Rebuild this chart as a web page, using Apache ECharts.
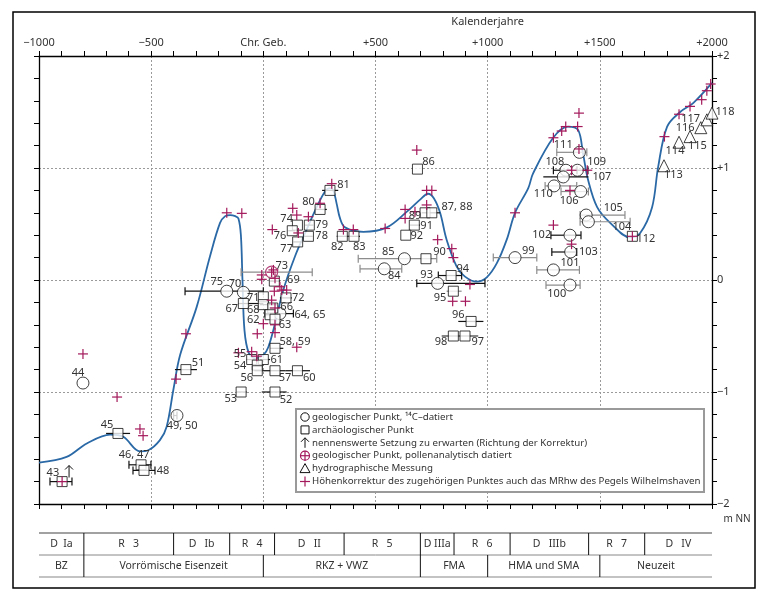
<!DOCTYPE html>
<html><head><meta charset="utf-8">
<script src="https://cdn.jsdelivr.net/npm/echarts/dist/echarts.min.js"></script>
<style>html,body{margin:0;padding:0;background:#fff}#c{width:765px;height:597px}</style>
</head><body><div id="c"></div>
<script>
// ---------- DATA ----------
const xTickLabels = ['\u22121000', '\u2212500', 'Chr. Geb.', '+500', '+1000', '+1500', '+2000'];
const yTickLabels = ['\u22122', '\u22121', '0', '+1', '+2'];

// sea-level curve (year, m NN)
const curve = [[-1000,-1.63],[-877,-1.58],[-787,-1.46],[-683,-1.38],[-624,-1.40],[-550,-1.53],[-513,-1.52],
 [-461,-1.43],[-431,-1.31],[-401,-0.98],[-371,-0.67],[-297,-0.24],[-238,0.21],[-193,0.51],[-170,0.57],[-148,0.58],
 [-125,0.57],[-111,0.55],[-100,0.40],[-93,0.0],[-84,-0.45],[-65,-0.65],[-35,-0.70],[0,-0.67],[22,-0.60],[52,-0.39],
 [89,-0.09],[141,0.21],[193,0.45],[238,0.65],[275,0.79],[297,0.82],[312,0.80],[327,0.68],[342,0.55],[364,0.47],
 [446,0.43],[551,0.47],[640,0.61],[700,0.72],[734,0.77],[760,0.73],[788,0.60],[817,0.36],[862,0.12],[899,0.03],
 [951,-0.015],[996,0.024],[1041,0.15],[1085,0.36],[1122,0.60],[1181,0.82],[1202,0.95],[1292,1.27],[1358,1.37],
 [1403,1.34],[1425,1.13],[1448,0.89],[1488,0.65],[1546,0.51],[1635,0.38],[1680,0.42],[1733,0.65],[1760,1.01],
 [1800,1.37],[1858,1.50],[1916,1.58],[2000,1.76]];

// geological points, 14C dated
const geoC14 = [[-804,-0.92],[-385,-1.21],[-163,-0.10],[-89,-0.11],[74,-0.30],[629,0.19],[539,0.10],[777,-0.03],
 [1122,0.20],[1367,0.40],[1370,0.25],[1293,0.09],[1367,-0.045],[1409,1.14],[1349,0.98],[1400,0.98],[1337,0.92],
 [1296,0.84],[1415,0.79],[1439,0.58],[1449,0.52]];
// geological point, pollen dated
const geoPollen = [[37,0.07]];
// archaeological points
const archaeo = [[-897,-1.80],[-648,-1.37],[-545,-1.65],[-532,-1.70],[-345,-0.80],[253,0.63],[152,0.49],[205,0.49],
 [129,0.44],[201,0.39],[153,0.34],[297,0.80],[352,0.39],[404,0.39],[49,-0.01],[0,-0.15],[-89,-0.21],[0,-0.22],
 [101,-0.16],[42,-0.25],[30,-0.31],[52,-0.35],[52,-0.61],[-52,-0.71],[0,-0.71],[-27,-0.76],[-27,-0.81],[52,-0.81],
 [152,-0.81],[-99,-1.00],[52,-1.00],[687,0.99],[721,0.60],[751,0.60],[673,0.49],[635,0.40],[725,0.19],[837,0.04],
 [847,-0.10],[926,-0.37],[899,-0.50],[847,-0.50],[1645,0.39]];
// hydrographic measurements
const hydro = [[1786,1.02],[1853,1.23],[1902,1.28],[1950,1.36],[1977,1.43],[2000,1.49]];
// height corrections
const corrections = [[-897,-1.80],[-804,-0.66],[-652,-1.045],[-550,-1.33],[-536,-1.39],[-389,-0.885],[-345,-0.48],
 [-163,0.60],[-96,0.595],[131,0.64],[149,0.58],[201,0.565],[253,0.685],[40,0.45],[156,0.42],[357,0.45],[401,0.45],
 [-7,0.045],[-7,0.006],[45,0.09],[52,0.015],[74,-0.06],[49,-0.10],[82,-0.09],[104,-0.09],[37,-0.18],[52,-0.25],
 [0,-0.39],[52,-0.40],[-27,-0.48],[52,-0.47],[149,-0.60],[-111,-0.65],[-52,-0.64],[-29,-0.68],
 [305,0.86],[684,1.16],[632,0.63],[676,0.61],[632,0.55],[728,0.80],[751,0.80],[728,0.67],[777,0.36],[840,0.28],
 [847,0.20],[921,-0.04],[844,-0.19],[901,-0.19],[543,0.46],[1122,0.60],[1374,0.32],
 [1407,1.49],[1348,1.37],[1330,1.33],[1401,1.37],[1293,1.27],[1407,1.17],[1374,0.98],[1444,0.98],[1367,0.80],
 [1293,0.49],[1788,1.28],[1853,1.48],[1902,1.55],[1954,1.61],[1977,1.69],[1994,1.75],[1645,0.39]];
// settlement expected (arrow)
const settlement = [[-866,-1.71]];

// dating ranges [from, to, height]
const rangesCapGray = [[-99,218,0.07],[423,773,0.19],[431,617,0.10],[1025,1219,0.20],[1219,1409,0.09],
 [1260,1412,-0.045],[1308,1442,1.14],[1256,1397,0.84],[1327,1449,0.79],[1412,1612,0.58],[1412,1635,0.52]];
const rangesCapBlack = [[-951,-853,-1.80],[-599,-501,-1.65],[-581,-483,-1.70],[-400,-385,-1.21],[-349,0,-0.10],
 [7,134,-0.30],[684,988,-0.03],[780,884,0.04],[1282,1416,0.40],[1286,1397,0.25],[1293,1374,0.98],[1398,1447,0.98]];
const rangesPlain = [[-701,-594,-1.37],[-394,-296,-0.80],[230,283,0.63],[186,223,0.49],[181,220,0.39],[134,171,0.34],
 [111,141,0.44],[327,379,0.39],[379,431,0.39],[30,74,-0.01],[74,127,-0.16],[-15,60,-0.22],[22,67,-0.25],[7,52,-0.31],
 [30,89,-0.61],[-15,30,-0.71],[-40,-15,-0.81],[-15,100,-0.81],[100,208,-0.81],[-74,-29,-0.71],[-37,0,-0.76],
 [-119,-74,-1.00],[-7,104,-1.00],[262,334,0.80],[706,788,0.60],[654,698,0.49],[869,981,-0.37],[795,958,-0.50],
 [1248,1449,0.92],[-111,0,-0.21]];
const rangesPlainGray = [[817,884,-0.10]];

// point numbers [year, height, text]
const pointLabels = [[-938,-1.72,'43'],[-826,-0.83,'44'],[-697,-1.29,'45'],[-576,-1.56,'46, 47'],[-447,-1.70,'48'],
 [-362,-1.30,'49, 50'],[-291,-0.74,'51'],[201,0.70,'80'],[104,0.55,'74'],[260,0.49,'79'],[74,0.39,'76'],[260,0.39,'78'],
 [104,0.28,'77'],[330,0.30,'82'],[428,0.30,'83'],[357,0.85,'81'],[134,0.0,'69'],[82,0.125,'73'],[-208,-0.015,'75'],
 [-126,-0.035,'70'],[-45,-0.155,'71'],[-141,-0.26,'67'],[-45,-0.27,'68'],[156,-0.16,'72'],[104,-0.24,'66'],
 [208,-0.31,'64, 65'],[-45,-0.36,'62'],[97,-0.40,'63'],[141,-0.55,'58, 59'],[-104,-0.66,'55'],[60,-0.71,'61'],
 [-104,-0.765,'54'],[-74,-0.87,'56'],[97,-0.87,'57'],[205,-0.87,'60'],[-145,-1.065,'53'],[101,-1.07,'52'],
 [736,1.055,'86'],[863,0.65,'87, 88'],[676,0.57,'89'],[728,0.48,'91'],[684,0.39,'92'],[557,0.25,'85'],[584,0.036,'84'],
 [728,0.045,'93'],[889,0.10,'94'],[788,-0.155,'95'],[869,-0.31,'96'],[956,-0.55,'97'],[792,-0.55,'98'],[785,0.25,'90'],
 [1181,0.26,'99'],[1241,0.40,'102'],[1449,0.25,'103'],[1367,0.15,'101'],[1308,-0.125,'100'],[1337,1.205,'111'],
 [1300,1.056,'108'],[1486,1.056,'109'],[1509,0.92,'107'],[1248,0.77,'110'],[1363,0.71,'106'],[1560,0.64,'105'],
 [1598,0.476,'104'],[1705,0.37,'112'],[1828,0.94,'113'],[1835,1.155,'114'],[1935,1.20,'115'],[1880,1.355,'116'],
 [1905,1.435,'117'],[2058,1.50,'118']];

// period table
const periodsRow1 = [[-1000,-800,'D  Ia'],[-800,-400,'R   3'],[-400,-150,'D   Ib'],[-150,50,'R   4'],[50,360,'D   II'],
 [360,700,'R   5'],[700,850,'D IIIa'],[850,1100,'R   6'],[1100,1450,'D   IIIb'],[1450,1700,'R   7'],[1700,2000,'D   IV']];
const periodsRow2 = [[-1000,-800,'BZ'],[-800,0,'Vorrömische Eisenzeit'],[0,700,'RKZ + VWZ'],[700,1000,'FMA'],
 [1000,1500,'HMA und SMA'],[1500,2000,'Neuzeit']];

const legendTexts = ['geologischer Punkt, \u00b9\u2074C\u2013datiert','archäologischer Punkt',
 'nennenswerte Setzung zu erwarten (Richtung der Korrektur)','geologischer Punkt, pollenanalytisch datiert',
 'hydrographische Messung','Höhenkorrektur des zugehörigen Punktes auch das MRhw des Pegels Wilhelmshaven'];

// ---------- CHART ----------
const FONT = 'Noto Sans';
const TXT = '#333';
const RED = '#a3195b';
const chart = echarts.init(document.getElementById('c'));

function plusItem(params, api) {
  const p = api.coord([api.value(0), api.value(1)]);
  const s = 5;
  return {type:'group', children:[
    {type:'line', shape:{x1:p[0]-s,y1:p[1],x2:p[0]+s,y2:p[1]}, style:{stroke:RED, lineWidth:1.2}},
    {type:'line', shape:{x1:p[0],y1:p[1]-s,x2:p[0],y2:p[1]+s}, style:{stroke:RED, lineWidth:1.2}}]};
}
function rangeItem(caps, color) {
  return function(params, api) {
    const a = api.coord([api.value(0), api.value(2)]);
    const b = api.coord([api.value(1), api.value(2)]);
    const ch = [{type:'line', shape:{x1:a[0],y1:a[1],x2:b[0],y2:b[1]}, style:{stroke:color, lineWidth:1.2}}];
    if (caps) {
      ch.push({type:'line', shape:{x1:a[0],y1:a[1]-4,x2:a[0],y2:a[1]+4}, style:{stroke:color, lineWidth:1.2}});
      ch.push({type:'line', shape:{x1:b[0],y1:b[1]-4,x2:b[0],y2:b[1]+4}, style:{stroke:color, lineWidth:1.2}});
    }
    return {type:'group', children:ch};
  };
}
function rangeSeries(data, caps, color) {
  return {type:'custom', data:data, encode:{x:[0,1], y:2}, renderItem:rangeItem(caps, color), z:3, clip:false, silent:true};
}

const axisLineStyle = {color:'#000', width:1.3};
const tickStyle = {color:'#000', width:1};

chart.setOption({
  animation:false,
  grid:{left:39, right:53, top:56, bottom:93},
  xAxis:[
    {type:'value', position:'top', min:-1000, max:2000, interval:500,
     axisLine:{show:true, onZero:false, lineStyle:axisLineStyle},
     axisTick:{show:true, length:5, lineStyle:tickStyle},
     minorTick:{show:true, splitNumber:5, length:5, lineStyle:tickStyle},
     axisLabel:{margin:8, color:TXT, fontFamily:FONT, fontSize:11,
       formatter:v => xTickLabels[Math.round((v+1000)/500)]},
     splitLine:{show:true, lineStyle:{color:'#9a9a9a', type:[2,2], width:1}}},
    {type:'value', position:'bottom', min:-1000, max:2000, interval:500,
     axisLine:{show:true, onZero:false, lineStyle:axisLineStyle},
     axisTick:{show:true, length:5, lineStyle:tickStyle},
     minorTick:{show:true, splitNumber:5, length:5, lineStyle:tickStyle},
     axisLabel:{show:false}, splitLine:{show:false}}
  ],
  yAxis:[
    {type:'value', position:'left', min:-2, max:2, interval:1,
     axisLine:{show:true, onZero:false, lineStyle:axisLineStyle},
     axisTick:{show:true, length:5, lineStyle:tickStyle},
     minorTick:{show:true, splitNumber:5, length:5, lineStyle:tickStyle},
     axisLabel:{show:false},
     splitLine:{show:true, lineStyle:{color:'#9a9a9a', type:[2,2], width:1}}},
    {type:'value', position:'right', min:-2, max:2, interval:1,
     axisLine:{show:true, onZero:false, lineStyle:axisLineStyle},
     axisTick:{show:true, length:5, lineStyle:tickStyle},
     minorTick:{show:true, splitNumber:5, length:5, lineStyle:tickStyle},
     axisLabel:{margin:5, color:TXT, fontFamily:FONT, fontSize:11,
       formatter:v => yTickLabels[Math.round(v+2)]},
     splitLine:{show:false}}
  ],
  series:[
    {type:'line', data:curve, smooth:0.35, symbol:'none', lineStyle:{color:'#2a69a6', width:1.8}, z:2, silent:true},
    rangeSeries(rangesCapGray, true, '#8c8c8c'),
    rangeSeries(rangesCapBlack, true, '#111'),
    rangeSeries(rangesPlain, false, '#111'),
    rangeSeries(rangesPlainGray, false, '#8c8c8c'),
    {type:'scatter', data:geoC14, symbol:'circle', symbolSize:12, z:4,
     itemStyle:{color:'#fff', borderColor:'#111', borderWidth:1}},
    {type:'scatter', data:archaeo, symbol:'rect', symbolSize:10, z:4,
     itemStyle:{color:'#fff', borderColor:'#111', borderWidth:1}},
    {type:'scatter', data:hydro, symbol:'triangle', symbolSize:12, z:4, clip:false,
     itemStyle:{color:'#fff', borderColor:'#111', borderWidth:1}},
    {type:'scatter', data:geoPollen, symbol:'circle', symbolSize:12, z:4,
     itemStyle:{color:'#fff', borderColor:RED, borderWidth:1.2}},
    {type:'custom', data:geoPollen.concat(corrections), encode:{x:0,y:1}, renderItem:plusItem, z:5, clip:false, silent:true},
    {type:'custom', data:settlement, encode:{x:0,y:1}, z:5, silent:true,
     renderItem:(params, api) => {
       const p = api.coord([api.value(0), api.value(1)]);
       return {type:'group', children:[
         {type:'line', shape:{x1:p[0],y1:p[1]+6,x2:p[0],y2:p[1]-6}, style:{stroke:'#111', lineWidth:1}},
         {type:'polyline', shape:{points:[[p[0]-4,p[1]-2],[p[0],p[1]-6],[p[0]+4,p[1]-2]]}, style:{stroke:'#111', fill:'none', lineWidth:1}}]};
     }},
    {type:'custom', data:pointLabels.map(d => [d[0], d[1]]), encode:{x:0,y:1}, z:6, clip:false, silent:true,
     renderItem:(params, api) => {
       const p = api.coord([api.value(0), api.value(1)]);
       return {type:'text', x:p[0], y:p[1], style:{text:pointLabels[params.dataIndex][2], fill:TXT,
         font:'11px "'+FONT+'"', textAlign:'center', textVerticalAlign:'middle'}};
     }}
  ]
});

// ---------- graphics: frame, titles, legend, period table ----------
const px = v => chart.convertToPixel({xAxisIndex:0}, v);
const g = [];
g.push({type:'rect', shape:{x:13, y:12, width:742, height:576}, style:{fill:'none', stroke:'#000', lineWidth:1.5}, z:100});
g.push({type:'text', x:px(1000), y:22, style:{text:'Kalenderjahre', fill:TXT, font:'11px "'+FONT+'"', textAlign:'center', textVerticalAlign:'middle'}, z:100});
g.push({type:'text', x:737, y:519, style:{text:'m NN', fill:TXT, font:'10px "'+FONT+'"', textAlign:'center', textVerticalAlign:'middle'}, z:100});

// legend
const LX = 296, LY = 409;
g.push({type:'rect', shape:{x:LX, y:LY, width:408, height:83}, style:{fill:'#fff', stroke:'#9a9a9a', lineWidth:2}, z:100});
const Z = 101;
legendTexts.forEach((t, i) => {
  const y = LY + 8 + i * 12.9;
  const sx = LX + 9;
  let parts;
  if (i === 0) parts = [{type:'circle', shape:{cx:sx, cy:y, r:4.2}, style:{fill:'#fff', stroke:'#111', lineWidth:1}}];
  else if (i === 1) parts = [{type:'rect', shape:{x:sx-4, y:y-4, width:8, height:8}, style:{fill:'#fff', stroke:'#111', lineWidth:1}}];
  else if (i === 2) parts = [
      {type:'line', shape:{x1:sx,y1:y+5,x2:sx,y2:y-5}, style:{stroke:'#111', lineWidth:1}},
      {type:'polyline', shape:{points:[[sx-4,y-1],[sx,y-5],[sx+4,y-1]]}, style:{stroke:'#111', fill:'none', lineWidth:1}}];
  else if (i === 3) parts = [
      {type:'circle', shape:{cx:sx, cy:y, r:4.5}, style:{fill:'#fff', stroke:RED, lineWidth:1.2}},
      {type:'line', shape:{x1:sx-5,y1:y,x2:sx+5,y2:y}, style:{stroke:RED, lineWidth:1.2}},
      {type:'line', shape:{x1:sx,y1:y-5,x2:sx,y2:y+5}, style:{stroke:RED, lineWidth:1.2}}];
  else if (i === 4) parts = [{type:'polygon', shape:{points:[[sx,y-5],[sx+5,y+4],[sx-5,y+4]]}, style:{fill:'#fff', stroke:'#111', lineWidth:1}}];
  else parts = [
      {type:'line', shape:{x1:sx-5,y1:y,x2:sx+5,y2:y}, style:{stroke:RED, lineWidth:1.2}},
      {type:'line', shape:{x1:sx,y1:y-5,x2:sx,y2:y+5}, style:{stroke:RED, lineWidth:1.2}}];
  parts.forEach(p => { p.z = Z; g.push(p); });
  g.push({type:'text', x:LX+16, y:y, style:{text:t, fill:TXT, font:'9.7px "'+FONT+'"', textVerticalAlign:'middle'}, z:Z});
});

// period table
const T0 = 533, T1 = 555, T2 = 577;
const xl = px(-1000), xr = px(2000);
g.push({type:'line', shape:{x1:xl, y1:T0, x2:xr, y2:T0}, style:{stroke:'#444', lineWidth:1.2}, z:100});
g.push({type:'line', shape:{x1:xl, y1:T1, x2:xr, y2:T1}, style:{stroke:'#888', lineWidth:1}, z:100});
g.push({type:'line', shape:{x1:xl, y1:T2, x2:xr, y2:T2}, style:{stroke:'#888', lineWidth:1.2}, z:100});
[[periodsRow1, T0, T1], [periodsRow2, T1, T2]].forEach(([rows, ya, yb]) => {
  rows.forEach((r, i) => {
    const a = px(r[0]), b = px(r[1]);
    if (i > 0) g.push({type:'line', shape:{x1:a, y1:ya, x2:a, y2:yb}, style:{stroke:'#111', lineWidth:1}, z:100});
    g.push({type:'text', x:(a+b)/2, y:(ya+yb)/2, style:{text:r[2], fill:TXT, font:'10.5px "'+FONT+'"', textAlign:'center', textVerticalAlign:'middle'}, z:100});
  });
});
chart.setOption({graphic:{elements:g}});
</script></body></html>
